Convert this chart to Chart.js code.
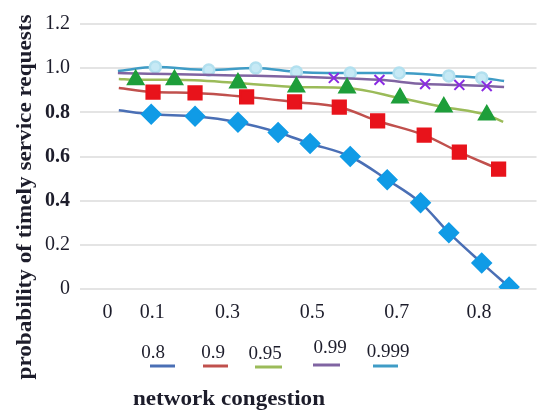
<!DOCTYPE html>
<html><head><meta charset="utf-8">
<script src="https://cdn.jsdelivr.net/npm/chart.js@4/dist/chart.umd.min.js"></script>
<style>html,body{margin:0;padding:0;background:#fff}#wrap{position:relative;width:548px;height:412px}</style>
</head><body><div id="wrap"><canvas id="c" width="548" height="412"></canvas></div>
<script>
// ---- data ----
const seriesLabels = ['0.8', '0.9', '0.95', '0.99', '0.999'];
const xTickAt = [0.060, 0.158, 0.323, 0.509, 0.694, 0.874];
const xTickLabels = ['0', '0.1', '0.3', '0.5', '0.7', '0.8'];

const congestion08 = [0.085, 0.156, 0.252, 0.346, 0.434, 0.504, 0.592, 0.673, 0.746, 0.808, 0.880, 0.940];
const prob08       = [0.809, 0.791, 0.782, 0.755, 0.709, 0.659, 0.600, 0.495, 0.391, 0.255, 0.118, 0.009];

const congestion09 = [0.085, 0.160, 0.252, 0.365, 0.470, 0.568, 0.652, 0.754, 0.831, 0.917];
const prob09       = [0.910, 0.892, 0.888, 0.870, 0.847, 0.824, 0.761, 0.697, 0.620, 0.543];

const congestion095 = [0.085, 0.122, 0.207, 0.346, 0.474, 0.585, 0.701, 0.797, 0.891, 0.927];
const prob095       = [0.951, 0.947, 0.947, 0.933, 0.915, 0.910, 0.865, 0.824, 0.788, 0.757];

const congestion099 = [0.083, 0.556, 0.656, 0.756, 0.831, 0.891, 0.929];
const prob099       = [0.978, 0.956, 0.947, 0.928, 0.924, 0.919, 0.915];

const congestion0999 = [0.083, 0.165, 0.282, 0.385, 0.474, 0.592, 0.699, 0.808, 0.880, 0.929];
const prob0999       = [0.987, 1.005, 0.992, 1.001, 0.983, 0.978, 0.978, 0.965, 0.956, 0.942];

// ---- chart ----
const FONT = "'Liberation Serif', 'Times New Roman', serif";
const TXT = '#1d1d2b';
const pts = (xs, ys) => xs.map((x, i) => ({ x: x, y: ys[i] }));
const noFirst = r => c => c.dataIndex === 0 ? 0 : r;
const noEnds = r => c => (c.dataIndex === 0 || c.dataIndex === c.dataset.data.length - 1) ? 0 : r;

const datasets = [
  { label: seriesLabels[0], data: pts(congestion08, prob08), borderColor: '#4a6fb5', backgroundColor: '#109be6',
    pointStyle: 'rectRot', pointRadius: noFirst(9), pointBorderColor: '#109be6', pointBackgroundColor: '#109be6' },
  { label: seriesLabels[1], data: pts(congestion09, prob09), borderColor: '#c0504d', backgroundColor: '#e8131b',
    pointStyle: 'rect', pointRadius: noFirst(9), pointBorderColor: '#e8131b', pointBackgroundColor: '#e8131b' },
  { label: seriesLabels[2], data: pts(congestion095, prob095), borderColor: '#9bbb59', backgroundColor: '#1e9e3a',
    pointStyle: 'triangle', pointRadius: noEnds(8.5), pointBorderColor: '#1e9e3a', pointBackgroundColor: '#1e9e3a' },
  { label: seriesLabels[3], data: pts(congestion099, prob099), borderColor: '#8064a2', backgroundColor: '#8a2be2',
    pointStyle: 'crossRot', pointRadius: noEnds(7), pointBorderColor: '#8a2be2', pointBorderWidth: 2 },
  { label: seriesLabels[4], data: pts(congestion0999, prob0999), borderColor: '#3f9cc6', backgroundColor: '#bfe6f3',
    pointStyle: 'circle', pointRadius: noEnds(5.5), pointBorderColor: '#b2e0ef', pointBackgroundColor: '#c6e9f5' }
];
datasets.forEach(d => { d.borderWidth = 2.5; d.cubicInterpolationMode = 'monotone'; d.fill = false; });

const overlay = {
  id: 'overlay',
  afterDraw(chart) {
    const ctx = chart.ctx;
    ctx.save();
    ctx.fillStyle = TXT;
    // legend: text above, coloured line below
    const spots = [
      { cx: 153, ty: 353, x1: 150, x2: 175, ly: 366 },
      { cx: 213, ty: 353, x1: 203, x2: 228, ly: 366 },
      { cx: 265, ty: 354, x1: 255, x2: 282, ly: 367 },
      { cx: 330, ty: 348, x1: 313, x2: 340, ly: 365 },
      { cx: 388, ty: 352, x1: 373, x2: 398, ly: 366 }
    ];
    ctx.font = "19px " + FONT;
    ctx.textAlign = 'center';
    ctx.textBaseline = 'middle';
    chart.data.datasets.forEach((ds, i) => {
      const s = spots[i];
      ctx.fillStyle = TXT;
      ctx.fillText(ds.label, s.cx, s.ty);
      ctx.strokeStyle = ds.borderColor;
      ctx.lineWidth = 3;
      ctx.beginPath(); ctx.moveTo(s.x1, s.ly); ctx.lineTo(s.x2, s.ly); ctx.stroke();
    });
    // x axis title
    ctx.fillStyle = TXT;
    ctx.font = "bold 21px " + FONT;
    ctx.textBaseline = 'alphabetic';
    let t = 'network congestion';
    let w = ctx.measureText(t).width;
    ctx.save(); ctx.translate(229, 405); ctx.scale(192 / w, 1); ctx.fillText(t, 0, 0); ctx.restore();
    // y axis title
    t = 'probability of timely service requests';
    w = ctx.measureText(t).width;
    ctx.save(); ctx.translate(31, 197); ctx.rotate(-Math.PI / 2); ctx.scale(365 / w, 1); ctx.fillText(t, 0, 0); ctx.restore();
    ctx.restore();
  }
};

new Chart(document.getElementById('c'), {
  type: 'line',
  data: { datasets: datasets },
  options: {
    responsive: false, animation: false, devicePixelRatio: 1,
    layout: { padding: { top: 24, right: 0, left: 0, bottom: 0 } },
    plugins: { legend: { display: false }, tooltip: { enabled: false } },
    scales: {
      x: {
        type: 'linear', min: 0, max: 1,
        grid: { display: false }, border: { display: false },
        afterBuildTicks: s => { s.ticks = xTickAt.map(v => ({ value: v })); },
        afterFit: s => { s.height = 123; },
        ticks: { autoSkip: false, maxRotation: 0, padding: 4, color: TXT,
          font: { family: FONT, size: 20 }, callback: (v, i) => xTickLabels[i] }
      },
      y: {
        min: 0, max: 1.2,
        grid: { color: '#e4e4e4', lineWidth: 2, drawTicks: false }, border: { display: false },
        afterFit: s => { s.width = 80; },
        ticks: { stepSize: 0.2, padding: 10, color: TXT,
          callback: v => v === 0 ? '0' : v.toFixed(1),
          font: c => {
            const v = c.tick ? Math.round(c.tick.value * 10) / 10 : 0;
            return { family: FONT, size: 20, weight: (v === 0.4 || v === 0.6 || v === 0.8) ? 'bold' : 'normal' };
          } }
      }
    }
  },
  plugins: [overlay]
});
</script></body></html>
